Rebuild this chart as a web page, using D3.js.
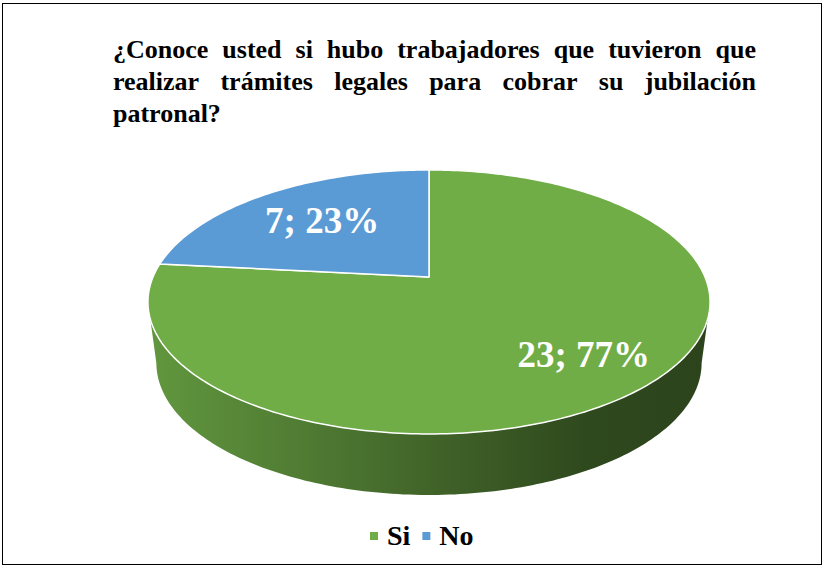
<!DOCTYPE html>
<html>
<head>
<meta charset="utf-8">
<script src="https://cdn.jsdelivr.net/npm/d3@7/dist/d3.min.js"></script>
<style>
  body { margin: 0; background: #fff; }
  svg { display: block; }
</style>
</head>
<body>
<svg id="chart" width="825" height="568"></svg>
<script>
// data
var categories = ["Si", "No"];
var values = [23, 7];
var colors = ["#70AD47", "#5B9BD5"];
var titleLines = [
  "¿Conoce usted si hubo trabajadores que tuvieron que",
  "realizar trámites legales para cobrar su jubilación",
  "patronal?"
];

var svg = d3.select("#chart"),
    W = 825, H = 568;

var FONT = "'Liberation Serif', 'Times New Roman', serif";

// frame
svg.append("rect")
    .attr("x", 2.5).attr("y", 3.5)
    .attr("width", 819).attr("height", 561)
    .attr("fill", "#fff")
    .attr("stroke", "#000")
    .attr("stroke-width", 1);

// title, first lines justified
var TX0 = 113, TX1 = 756;
titleLines.forEach(function(line, i) {
  var y = 58 + i * 32;
  var words = line.split(" ");
  var g = svg.append("g");
  var texts = words.map(function(w) {
    return g.append("text")
      .attr("y", y)
      .attr("font-family", FONT)
      .attr("font-weight", "bold")
      .attr("font-size", 26)
      .attr("fill", "#000")
      .text(w);
  });
  var widths = texts.map(function(t) { return t.node().getComputedTextLength(); });
  var total = d3.sum(widths);
  var gap = (i < titleLines.length - 1 && words.length > 1)
      ? (TX1 - TX0 - total) / (words.length - 1)
      : 6.5;
  var x = TX0;
  texts.forEach(function(t, j) {
    t.attr("x", x);
    x += widths[j] + gap;
  });
});

// perspective pie geometry
var CX = 429, CY = 277, RX = 276, RY = 127.3, K = 0.189;
var DEPTH = 61, BSCALE = 0.97;

function proj(theta, f, bottom) {
  var u = Math.sin(theta) * f, v = Math.cos(theta) * f;
  var s = 1 / (1 + K * v);
  var x = CX + RX * u * s, y = CY - RY * v * s;
  if (bottom) { x = CX + (x - CX) * BSCALE; y += DEPTH; }
  return [x, y];
}

function arcPoints(a0, a1, bottom) {
  var n = Math.max(2, Math.ceil(Math.abs(a1 - a0) / (Math.PI / 180)));
  return d3.range(n + 1).map(function(i) {
    return proj(a0 + (a1 - a0) * i / n, 1, bottom);
  });
}

var pie = d3.pie().sort(null).startAngle(0).endAngle(2 * Math.PI);
var arcs = pie(values);

var line = d3.line();

// side gradients
var defs = svg.append("defs");
var shade = [[0, 0.87], [0.3, 0.7], [0.55, 0.55], [0.78, 0.42], [1, 0.39]];
colors.forEach(function(c, i) {
  var base = d3.rgb(c);
  var grad = defs.append("linearGradient")
      .attr("id", "side" + i)
      .attr("gradientUnits", "userSpaceOnUse")
      .attr("x1", CX - RX * 1.02).attr("x2", CX + RX * 1.02)
      .attr("y1", 0).attr("y2", 0);
  shade.forEach(function(s) {
    grad.append("stop")
      .attr("offset", s[0])
      .attr("stop-color", d3.rgb(base.r * s[1], base.g * s[1], base.b * s[1]).formatHex());
  });
});

// visible front side between the silhouette angles
var thR = Math.acos(-K), thL = 2 * Math.PI - thR;
arcs.forEach(function(d, i) {
  var a0 = Math.max(d.startAngle, thR), a1 = Math.min(d.endAngle, thL);
  if (a1 <= a0) return;
  var pts = arcPoints(a0, a1, false).concat(arcPoints(a1, a0, true));
  svg.append("path")
      .attr("d", line(pts) + "Z")
      .attr("fill", "url(#side" + i + ")");
});

// top slices
arcs.forEach(function(d, i) {
  var pts = [[CX, CY]].concat(arcPoints(d.startAngle, d.endAngle, false));
  svg.append("path")
      .attr("d", line(pts) + "Z")
      .attr("fill", colors[i])
      .attr("stroke", "#fff")
      .attr("stroke-width", 1.5)
      .attr("stroke-linejoin", "round");
});

// data labels
var total = d3.sum(values);
var labelFrac = [0.75, 0.63];
arcs.forEach(function(d, i) {
  var mid = (d.startAngle + d.endAngle) / 2;
  var p = proj(mid, labelFrac[i], false);
  svg.append("text")
      .attr("x", p[0]).attr("y", p[1] + 11)
      .attr("text-anchor", "middle")
      .attr("font-family", FONT)
      .attr("font-weight", "bold")
      .attr("font-size", 37)
      .attr("fill", "#fff")
      .text(values[i] + "; " + Math.round(values[i] / total * 100) + "%");
});

// legend
var legend = svg.append("g");
var lx = 370;
categories.forEach(function(c, i) {
  legend.append("rect")
      .attr("x", lx).attr("y", 532)
      .attr("width", 8).attr("height", 8)
      .attr("fill", colors[i]);
  var t = legend.append("text")
      .attr("x", lx + 17).attr("y", 545)
      .attr("font-family", FONT)
      .attr("font-weight", "bold")
      .attr("font-size", 28)
      .attr("fill", "#000")
      .text(c);
  lx += 17 + t.node().getComputedTextLength() + 12;
});
</script>
</body>
</html>
